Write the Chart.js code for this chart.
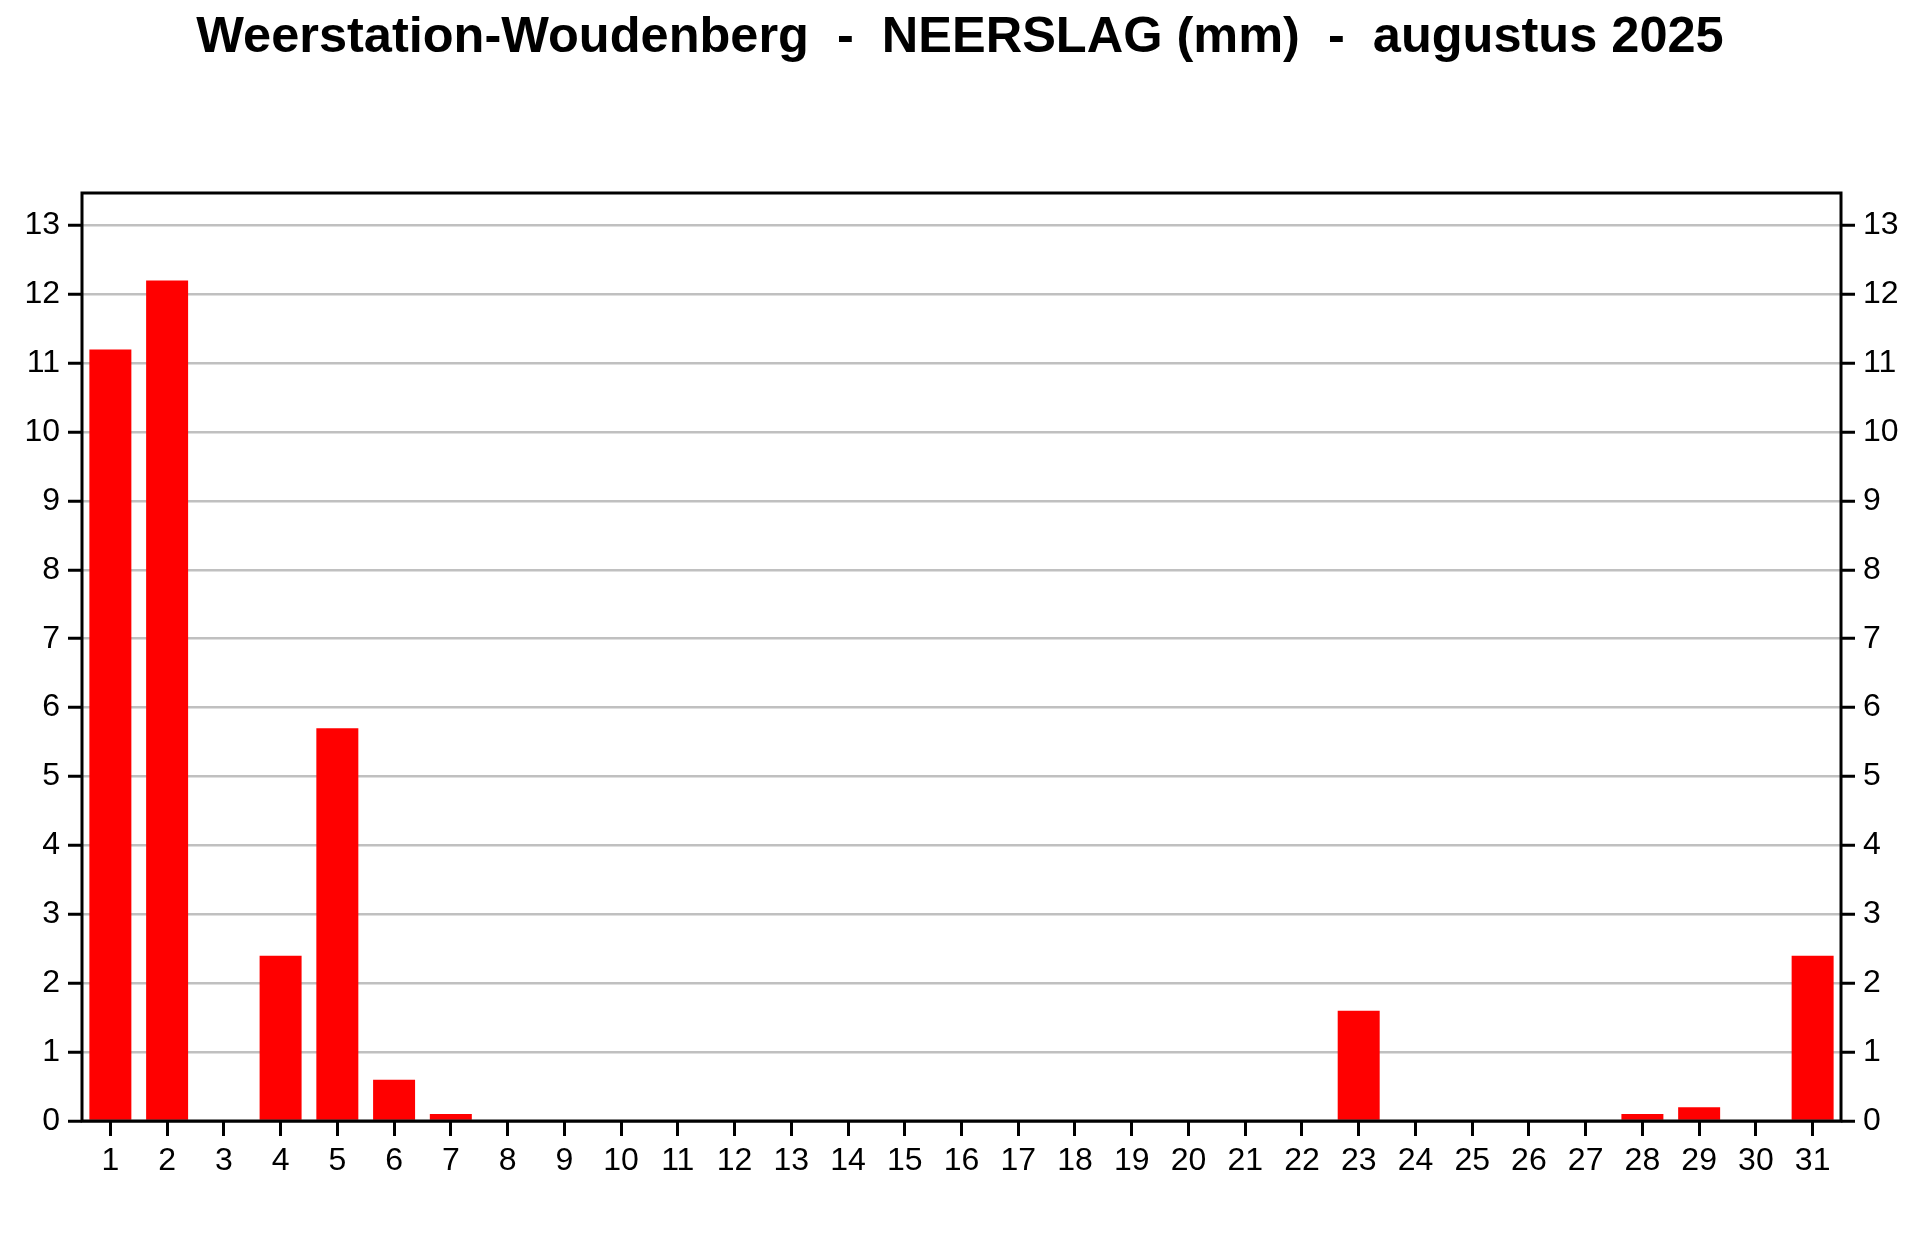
<!DOCTYPE html>
<html>
<head>
<meta charset="utf-8">
<script src="https://cdn.jsdelivr.net/npm/chart.js@4/dist/chart.umd.min.js"></script>
<style>
html,body{margin:0;padding:0;background:#fff;}
canvas{display:block;}
</style>
</head>
<body>
<canvas id="c" width="1920" height="1248"></canvas>
<script>
const days = ['1','2','3','4','5','6','7','8','9','10','11','12','13','14','15','16','17','18','19','20','21','22','23','24','25','26','27','28','29','30','31'];
const rainfall = [11.2, 12.2, 0, 2.4, 5.7, 0.6, 0.1, 0, 0, 0, 0, 0, 0, 0, 0, 0, 0, 0, 0, 0, 0, 0, 1.6, 0, 0, 0, 0, 0.1, 0.2, 0, 2.4];
const yTickValues = [0, 1, 2, 3, 4, 5, 6, 7, 8, 9, 10, 11, 12, 13];
const titleText = 'Weerstation-Woudenberg  -  NEERSLAG (mm)  -  augustus 2025';
const yMin = 0;
const yMax = 13.47;

const FONT = '"Liberation Sans", Arial, sans-serif';

const framePlugin = {
  id: 'frame',
  afterDatasetsDraw(chart) {
    const a = chart.chartArea, ctx = chart.ctx;
    ctx.save();
    ctx.strokeStyle = '#000';
    ctx.lineWidth = 3;
    ctx.strokeRect(a.left, a.top, a.right - a.left, a.bottom - a.top);
    ctx.restore();
  }
};

const setTicks = s => { s.ticks = yTickValues.map(v => ({ value: v })); };

const yCommon = (pos) => ({
  type: 'linear',
  position: pos,
  min: yMin,
  max: yMax,
  afterBuildTicks: setTicks,
  ticks: { color: '#000', font: { family: FONT, size: 32 }, padding: 8 },
  border: { display: false },
  grid: {
    drawOnChartArea: pos === 'left',
    color: ctx => (ctx.tick && ctx.tick.value === 0) ? '#000' : '#c0c0c0',
    lineWidth: 2.5,
    tickColor: '#000',
    tickWidth: 3,
    tickLength: 14
  }
});

new Chart(document.getElementById('c'), {
  type: 'bar',
  data: {
    labels: days,
    datasets: [{
      data: rainfall,
      backgroundColor: '#ff0000',
      borderWidth: 0,
      barPercentage: 0.74,
      categoryPercentage: 1.0,
      yAxisID: 'y'
    }]
  },
  options: {
    responsive: false,
    animation: false,
    devicePixelRatio: 1,
    layout: { padding: 0 },
    plugins: {
      legend: { display: false },
      tooltip: { enabled: false },
      title: {
        display: true,
        text: titleText,
        color: '#000',
        font: { family: FONT, size: 50.5, weight: 'bold' },
        padding: { top: 8, bottom: 124.4 }
      }
    },
    scales: {
      x: {
        type: 'category',
        offset: true,
        afterFit: s => { s.height = 127; },
        ticks: { color: '#000', font: { family: FONT, size: 32 }, padding: 6, maxRotation: 0, autoSkip: false },
        border: { display: false },
        grid: {
          offset: false,
          drawOnChartArea: false,
          tickColor: '#000',
          tickWidth: 3,
          tickLength: 15
        }
      },
      y: Object.assign(yCommon('left'), { afterFit: s => { s.width = 82; } }),
      y2: Object.assign(yCommon('right'), { afterFit: s => { s.width = 79; } })
    }
  },
  plugins: [framePlugin]
});
</script>
</body>
</html>
